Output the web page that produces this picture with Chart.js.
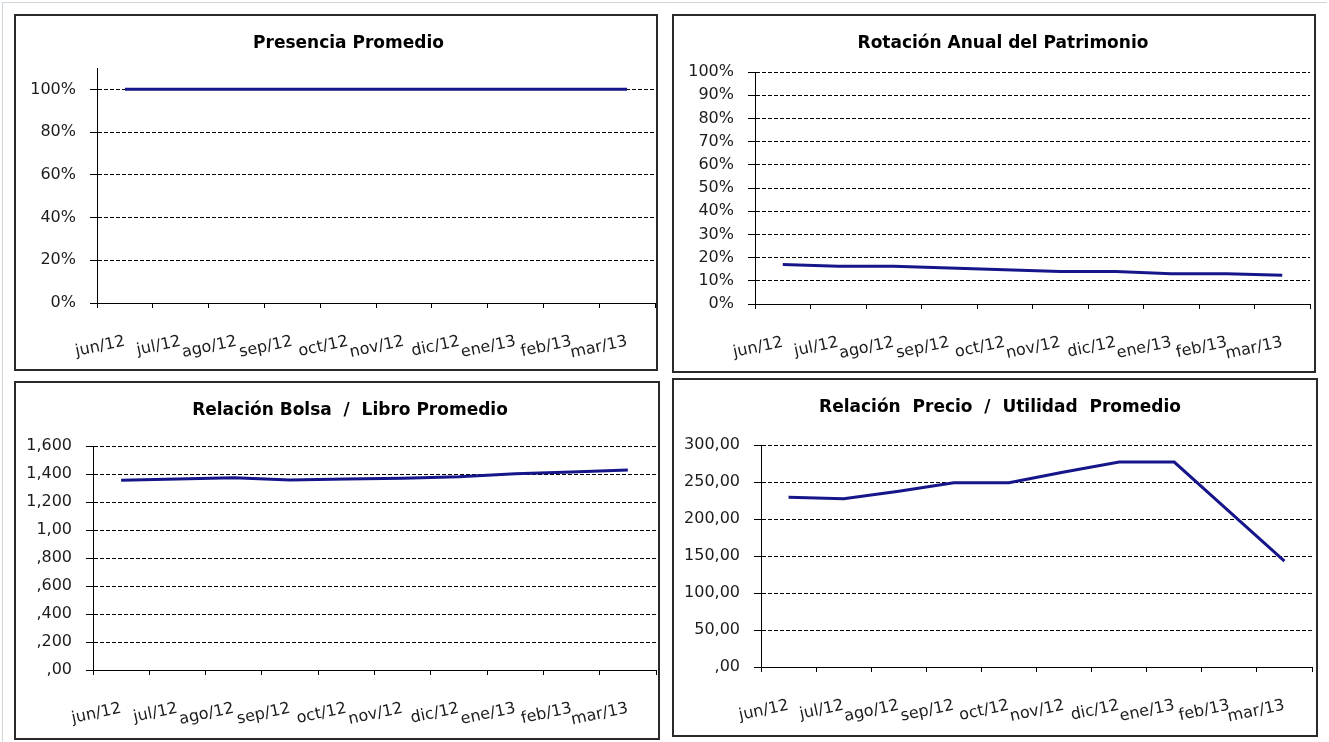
<!DOCTYPE html>
<html>
<head>
<meta charset="utf-8">
<script src="https://cdn.jsdelivr.net/npm/chart.js@4"></script>
<style>
body { margin: 0; background: #fff; font-family: 'DejaVu Sans', sans-serif; }
#frame { position: absolute; left: 2px; top: 2px; width: 1324px; height: 740px; border-left: 1px solid #cfd6de; border-top: 1px solid #cfd6de; }
.panel { position: absolute; box-sizing: border-box; border: 2px solid #2a2a2a; background: #fff; }
.panel canvas { display: block; }
</style>
</head>
<body>
<div id="frame"></div>
<div class="panel" style="left:14px;top:14px;width:644px;height:357px"><canvas id="c1" width="640" height="353"></canvas></div>
<div class="panel" style="left:672px;top:14px;width:644px;height:359px"><canvas id="c2" width="640" height="355"></canvas></div>
<div class="panel" style="left:14px;top:381px;width:646px;height:359px"><canvas id="c3" width="642" height="355"></canvas></div>
<div class="panel" style="left:672px;top:378px;width:646px;height:359px"><canvas id="c4" width="642" height="355"></canvas></div>
<script>
const months = ['jun/12', 'jul/12', 'ago/12', 'sep/12', 'oct/12', 'nov/12', 'dic/12', 'ene/13', 'feb/13', 'mar/13'];

// valores
const presencia = [100, 100, 100, 100, 100, 100, 100, 100, 100, 100];
const rotacion = [17.0, 16.3, 16.3, 15.5, 14.8, 14.0, 14.0, 13.0, 13.0, 12.4];
const bolsaLibro = [1.355, 1.365, 1.374, 1.358, 1.365, 1.369, 1.381, 1.402, 1.414, 1.428];
const precioUtilidad = [229.5, 227.5, 237.5, 249, 249, 263.5, 277, 277, 210, 143];

// etiquetas del eje y (tal como aparecen)
const bolsaTicks = [',00', ',200', ',400', ',600', ',800', '1,00', '1,200', '1,400', '1,600'];
const precioTicks = [',00', '50,00', '100,00', '150,00', '200,00', '250,00', '300,00'];

const lineColor = '#16168a';
const textColor = '#1c1c1c';
const fam = "'DejaVu Sans', sans-serif";

function makeChart(id, cfg) {
    new Chart(document.getElementById(id), {
        type: 'line',
        data: {
            labels: months,
            datasets: [{
                data: cfg.data,
                borderColor: lineColor,
                borderWidth: 3,
                pointRadius: 0,
                tension: 0,
                fill: false
            }]
        },
        options: {
            responsive: false,
            animation: false,
            layout: { padding: { left: 4, right: cfg.padRight, top: 0, bottom: cfg.padBottom } },
            plugins: {
                legend: { display: false },
                tooltip: { enabled: false },
                title: {
                    display: true,
                    text: cfg.title,
                    color: '#000',
                    font: { family: fam, size: 17, weight: 'bold', lineHeight: 1.2 },
                    padding: { top: 17.8, bottom: cfg.titleBottom }
                }
            },
            scales: {
                x: {
                    offset: true,
                    grid: { offset: true, drawOnChartArea: false, drawTicks: true, tickLength: 5, color: '#000', tickColor: '#000' },
                    border: { color: '#000', width: 1 },
                    ticks: { autoSkip: false, minRotation: 12, maxRotation: 12, padding: 24, color: textColor, font: { family: fam, size: 16 } },
                    afterFit: s => { s.height = 60; }
                },
                y: {
                    min: cfg.min,
                    max: cfg.max,
                    ticks: {
                        stepSize: cfg.step,
                        includeBounds: false,
                        padding: 14,
                        color: textColor,
                        font: { family: fam, size: 16 },
                        callback: cfg.fmt
                    },
                    grid: { color: '#000', lineWidth: 1, tickColor: '#000', tickLength: 7, tickBorderDash: [] },
                    border: { color: '#000', width: 1, dash: [4, 2] },
                    afterFit: s => { s.width = cfg.left - 4; }
                }
            }
        },
        plugins: [{
            // el título del original no está centrado en el panel
            id: 'titleShift',
            afterLayout(chart) {
                chart.titleBlock.left += cfg.titleShift;
                chart.titleBlock.right += cfg.titleShift;
            }
        }]
    });
}

makeChart('c1', {
    title: 'Presencia Promedio', data: presencia,
    min: 0, max: 110, step: 20, fmt: v => v + '%',
    left: 81, padRight: 1, padBottom: 6, titleBottom: 13.8, titleShift: 11
});
makeChart('c2', {
    title: 'Rotación Anual del Patrimonio', data: rotacion,
    min: 0, max: 100, step: 10, fmt: v => v + '%',
    left: 81, padRight: 4, padBottom: 7, titleBottom: 17.8, titleShift: 9
});
makeChart('c3', {
    title: 'Relación Bolsa  /  Libro Promedio', data: bolsaLibro,
    min: 0, max: 1.6, step: 0.2, fmt: (v, i) => bolsaTicks[i],
    left: 77, padRight: 2, padBottom: 8, titleBottom: 24.8, titleShift: 12
});
makeChart('c4', {
    title: 'Relación  Precio  /  Utilidad  Promedio', data: precioUtilidad,
    min: 0, max: 300, step: 50, fmt: (v, i) => precioTicks[i],
    left: 87, padRight: 4, padBottom: 8, titleBottom: 26.8, titleShift: 5
});
</script>
</body>
</html>
